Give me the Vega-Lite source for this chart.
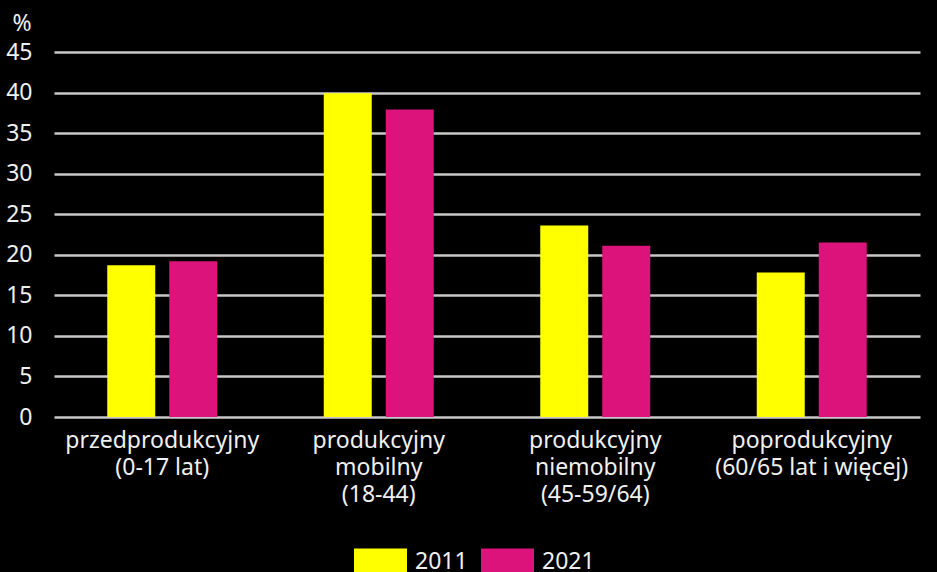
{
  "$schema": "https://vega.github.io/schema/vega-lite/v6.json",
  "autosize": "none",
  "width": 866,
  "height": 365,
  "padding": {"left": 54, "top": 52, "right": 17, "bottom": 155},
  "background": "#000000",
  "config": {
    "view": {"stroke": null},
    "font": "Noto Sans",
    "axis": {"labelFont": "Noto Sans", "titleFont": "Noto Sans"},
    "legend": {"labelFont": "Noto Sans"}
  },
  "data": {
    "values": [
      {"group": "przedprodukcyjny|(0-17 lat)", "year": "2011", "value": 18.7},
      {"group": "przedprodukcyjny|(0-17 lat)", "year": "2021", "value": 19.2},
      {"group": "produkcyjny|mobilny|(18-44)", "year": "2011", "value": 39.9},
      {"group": "produkcyjny|mobilny|(18-44)", "year": "2021", "value": 37.9},
      {"group": "produkcyjny|niemobilny|(45-59/64)", "year": "2011", "value": 23.6},
      {"group": "produkcyjny|niemobilny|(45-59/64)", "year": "2021", "value": 21.1},
      {"group": "poprodukcyjny|(60/65 lat i więcej)", "year": "2011", "value": 17.8},
      {"group": "poprodukcyjny|(60/65 lat i więcej)", "year": "2021", "value": 21.5}
    ]
  },
  "mark": {"type": "bar"},
  "encoding": {
    "x": {
      "field": "group",
      "type": "nominal",
      "sort": null,
      "scale": {"paddingInner": 0.492, "paddingOuter": 0.246},
      "axis": {
        "title": null,
        "labelAngle": 0,
        "labelExpr": "split(datum.label, '|')",
        "labelColor": "#f0f0f0",
        "labelFontSize": 23,
        "labelLineHeight": 27,
        "labelPadding": 12,
        "ticks": false,
        "domain": false,
        "labelLimit": 400
      }
    },
    "xOffset": {
      "field": "year",
      "type": "nominal",
      "scale": {"paddingInner": 0.226, "paddingOuter": 0}
    },
    "y": {
      "field": "value",
      "type": "quantitative",
      "scale": {"domain": [0, 45], "nice": false},
      "axis": {
        "values": [0, 5, 10, 15, 20, 25, 30, 35, 40, 45],
        "title": "%",
        "titleAngle": 0,
        "titleX": -42,
        "titleY": -22,
        "titleAlign": "left",
        "titleBaseline": "alphabetic",
        "titleColor": "#f0f0f0",
        "titleFontSize": 23,
        "titleFontWeight": "normal",
        "labelColor": "#f0f0f0",
        "labelFontSize": 23,
        "labelPadding": 22,
        "ticks": false,
        "domain": false,
        "grid": true,
        "gridColor": "#c8c8c8",
        "gridWidth": 2.5
      }
    },
    "color": {
      "field": "year",
      "type": "nominal",
      "scale": {"domain": ["2011", "2021"], "range": ["#ffff00", "#dc137b"]},
      "legend": {
        "title": null,
        "orient": "none",
        "legendX": 300,
        "legendY": 483,
        "direction": "horizontal",
        "symbolType": "M-1,-0.5H1V0.5H-1Z",
        "symbolSize": 2809,
        "symbolStrokeWidth": 0,
        "symbolOpacity": 1,
        "labelColor": "#f0f0f0",
        "labelFontSize": 23,
        "labelOffset": 8,
        "columnPadding": 13,
        "symbolOffset": 0
      }
    }
  }
}
